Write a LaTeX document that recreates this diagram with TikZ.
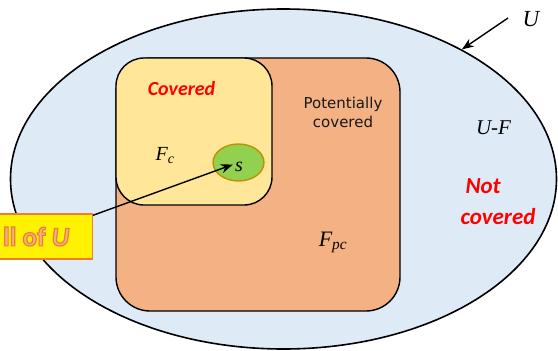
\documentclass[tikz,border=0pt]{standalone}
\usepackage{fontspec}
\setmainfont{Liberation Serif}
\newfontfamily\calibri{Carlito}
\newfontfamily\dejavu{DejaVu Sans}
\usetikzlibrary{shapes.geometric, arrows.meta, positioning}
\definecolor{univBlue}{RGB}{222,235,247}
\definecolor{pcOrange}{RGB}{244,177,131}
\definecolor{cYellow}{RGB}{255,230,153}
\definecolor{sGreen}{RGB}{146,208,80}
\definecolor{sGold}{RGB}{191,144,0}
\definecolor{tagOrange}{RGB}{237,125,49}
\definecolor{notRed}{RGB}{255,0,0}
% outlined text: fill + stroke
\newcommand{\outlined}[1]{%
  \special{pdf:code 2 Tr 1.2 w 0.929 0.490 0.192 RG}#1\special{pdf:code 0 Tr}}

\begin{document}
\begin{tikzpicture}[
  x=1pt, y=-1pt,
  region/.style={
    rectangle, rounded corners=#1,
    draw=black, line width=1.4pt
  },
  mathlbl/.style={font=\fontsize{#1}{#1}\selectfont\itshape, anchor=base},
  redlbl/.style={font=\calibri\bfseries\itshape\fontsize{#1}{31}\selectfont, text=notRed},
  arr/.style={-{Stealth[length=12pt,width=9pt]}, line width=1.4pt}
]
  \useasboundingbox (0,0) rectangle (558,351);

  % Sets
  \node[ellipse, draw=black, line width=1.6pt, fill=univBlue,
    minimum width=546, minimum height=340] (univ) at (283.5,179) {};
  \node[region=34pt, fill=pcOrange,
    minimum width=284, minimum height=253] (fpcbox) at (258,184.5) {};
  \node[region=28pt, fill=cYellow,
    minimum width=156, minimum height=147] (fcbox) at (194,131.5) {};
  \node[ellipse, draw=sGold, line width=1.4pt, fill=sGreen, inner sep=0pt,
    minimum width=51, minimum height=37] (sdot) at (238.5,162.5) {};

  % Tag
  \node[draw=tagOrange, line width=1.4pt, fill=yellow, anchor=east,
    minimum height=45, inner xsep=23pt,
    font=\calibri\bfseries\fontsize{27}{28}\selectfont, text=pcOrange]
    (allu) at (93,236.5) {\outlined{ll of \textit{U}}};

  % Labels
  \node[mathlbl=23] (ulbl) at (531,26) {U};
  \node[mathlbl=21] (uflbl) at (493.5,134) {U-F};
  \node[mathlbl=20] (fclbl) at (165,160) {F\textsubscript{c}};
  \node[mathlbl=22] (fpclbl) at (333,246) {F\textsubscript{pc}};
  \node[mathlbl=20] (slbl) at (239,171) {s};
  \node[redlbl=20, anchor=base] (covlbl) at (181.5,95) {Covered};
  \node[redlbl=23, align=left, anchor=west] (notlbl) at (457,202)
    {\hspace*{5pt}Not\\covered};
  \node[font=\dejavu\fontsize{15}{19}\selectfont, align=center,
    text=black!90] (potlbl) at (343,112) {Potentially\\covered};

  % Arrows
  \coordinate (utail) at (508,18);
  \draw[arr] (utail) -- (univ.36);
  \draw[arr, shorten >=6pt] ([yshift=-2pt]allu.north east) -- (sdot.center);
\end{tikzpicture}
\end{document}
